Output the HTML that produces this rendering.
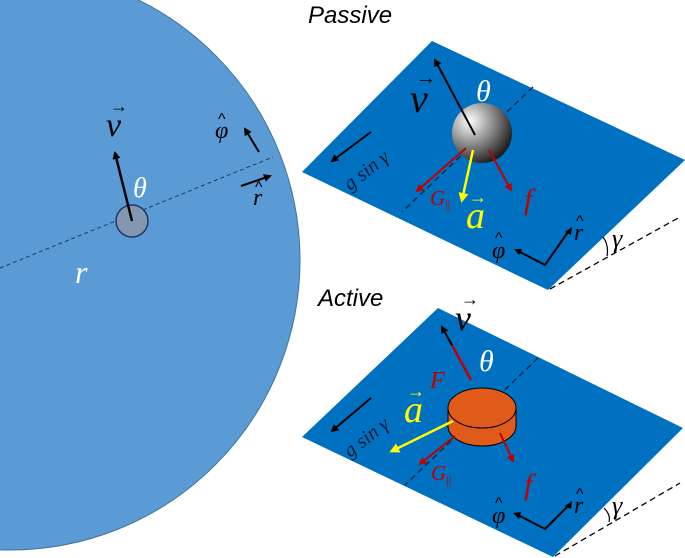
<!DOCTYPE html>
<html><head><meta charset="utf-8"><style>
body{margin:0;background:#fff;}
svg{display:block;}
text{font-family:"Liberation Serif",serif;font-style:italic;}
.s{font-family:"Liberation Sans",sans-serif;}
.h{font-family:"Liberation Sans",sans-serif;font-style:normal;}
</style></head><body>
<svg width="685" height="558" viewBox="0 0 685 558" xmlns="http://www.w3.org/2000/svg">
<defs>
<marker id="ak" markerWidth="8" markerHeight="8" refX="6" refY="4" orient="auto" markerUnits="userSpaceOnUse"><path d="M0,0 L8,4 L0,8 z" fill="#000"/></marker>
<marker id="ar" markerWidth="8" markerHeight="8" refX="6" refY="4" orient="auto" markerUnits="userSpaceOnUse"><path d="M0,0 L8,4 L0,8 z" fill="#c00000"/></marker>
<marker id="ay" markerWidth="10" markerHeight="10" refX="7" refY="5" orient="auto" markerUnits="userSpaceOnUse"><path d="M0,0 L10,5 L0,10 z" fill="#ffff00"/></marker>
<radialGradient id="sph" cx="0.3" cy="0.3" r="0.8"><stop offset="0" stop-color="#fff"/><stop offset="0.5" stop-color="#888"/><stop offset="1" stop-color="#111"/></radialGradient>
</defs>
<!-- big circle -->
<circle cx="10" cy="260" r="290" fill="#5b9bd5" stroke="#41719c" stroke-width="1"/>
<line x1="0" y1="268" x2="273" y2="157" stroke="#1f3864" stroke-width="1" stroke-dasharray="4,3"/>
<circle cx="132" cy="221" r="16" fill="#8497b0" stroke="#1f3864" stroke-width="1.5"/>
<line x1="132" y1="221" x2="115" y2="153" stroke="#000" stroke-width="2.5" marker-end="url(#ak)"/>
<text x="106" y="136" font-size="34">v</text><text x="110" y="112" font-size="18" class="h">→</text>
<text x="133" y="197" font-size="28" fill="#fff">θ</text>
<line x1="259" y1="152" x2="245" y2="129" stroke="#000" stroke-width="2" marker-end="url(#ak)"/>
<text x="215" y="138" font-size="24">φ</text><text x="218" y="124" font-size="16" class="h">^</text>
<line x1="241" y1="186" x2="270" y2="176" stroke="#000" stroke-width="2" marker-end="url(#ak)"/>
<text x="253" y="205" font-size="24">r</text><text x="255" y="192" font-size="16" class="h">^</text>
<text x="75" y="283" font-size="32" fill="#fff">r</text>

<!-- Passive -->
<text x="308" y="23" font-size="24" class="s" font-style="italic">Passive</text>
<polygon points="432,41 685,160 548,290 302,172" fill="#0070c0"/>
<line x1="533" y1="87" x2="402" y2="212" stroke="#0d2a50" stroke-width="1.5" stroke-dasharray="6,4"/>
<circle cx="482" cy="133" r="30" fill="url(#sph)"/>
<line x1="475" y1="135" x2="435" y2="60" stroke="#000" stroke-width="2" marker-end="url(#ak)"/>
<text x="410" y="112" font-size="40">v</text><text x="416" y="84" font-size="20" class="h">→</text>
<text x="476" y="101" font-size="30" fill="#fff">θ</text>
<line x1="371" y1="132" x2="332" y2="161" stroke="#000" stroke-width="2" marker-end="url(#ak)"/>
<text x="0" y="0" font-size="20" fill="#0d1a30" transform="translate(350,191) rotate(-38)">g sin γ</text>
<line x1="466" y1="148" x2="417" y2="191" stroke="#c00000" stroke-width="2" marker-end="url(#ar)"/>
<line x1="473" y1="150" x2="462" y2="200" stroke="#ffff00" stroke-width="2.5" marker-end="url(#ay)"/>
<line x1="489" y1="150" x2="511" y2="190" stroke="#c00000" stroke-width="2" marker-end="url(#ar)"/>
<text x="430" y="205" font-size="21" fill="#c00000">G<tspan font-size="13" dy="4" font-style="normal">||</tspan></text>
<text x="466" y="228" font-size="38" fill="#ffff00">a</text><text x="469" y="203" font-size="18" fill="#ffff00" class="h">→</text>
<text x="524" y="209" font-size="30" fill="#c00000">f</text>
<polyline points="518,251 545,265 568,232" fill="none" stroke="#000" stroke-width="2"/>
<path d="M514,249 l8,0 l-3,6 z" fill="#000"/>
<path d="M572,227 l-1,8 l-6,-3 z" fill="#000"/>
<text x="492" y="258" font-size="24">φ</text><text x="495" y="243" font-size="16" class="h">^</text>
<text x="574" y="240" font-size="24">r</text><text x="576" y="226" font-size="16" class="h">^</text>
<line x1="550" y1="289" x2="680" y2="217" stroke="#000" stroke-width="1.3" stroke-dasharray="6,4"/>
<path d="M603,237 Q609,245 607,256" fill="none" stroke="#000" stroke-width="1.2"/>
<text x="612" y="247" font-size="26">γ</text>

<!-- Active -->
<text x="318" y="306" font-size="24" class="s" font-style="italic">Active</text>
<polygon points="438,308 683,428 553,557 302,437" fill="#0070c0"/>
<line x1="538" y1="358" x2="405" y2="485" stroke="#0d2a50" stroke-width="1.5" stroke-dasharray="6,4"/>
<line x1="470" y1="378" x2="442" y2="327" stroke="#000" stroke-width="2" marker-end="url(#ak)"/>
<line x1="471" y1="380" x2="452" y2="345" stroke="#c00000" stroke-width="2.5"/>
<text x="455" y="330" font-size="36">v</text><text x="461" y="305" font-size="18" class="h">→</text>
<text x="479" y="371" font-size="30" fill="#fff">θ</text>
<text x="430" y="388" font-size="24" fill="#c00000">F</text>
<path d="M448,408 L448,426 A34,20 0 0 0 516,426 L516,408 z" fill="#e05a1a" stroke="#000" stroke-width="1"/>
<ellipse cx="482" cy="408" rx="34" ry="20" fill="#e05a1a" stroke="#000" stroke-width="1"/>
<line x1="371" y1="398" x2="332" y2="431" stroke="#000" stroke-width="2" marker-end="url(#ak)"/>
<text x="0" y="0" font-size="20" fill="#0d1a30" transform="translate(350,458) rotate(-38)">g sin γ</text>
<line x1="453" y1="421" x2="392" y2="451" stroke="#ffff00" stroke-width="2.5" marker-end="url(#ay)"/>
<text x="404" y="422" font-size="38" fill="#ffff00">a</text><text x="407" y="397" font-size="18" fill="#ffff00" class="h">→</text>
<line x1="455" y1="436" x2="420" y2="464" stroke="#c00000" stroke-width="2" marker-end="url(#ar)"/>
<text x="431" y="480" font-size="21" fill="#c00000">G<tspan font-size="13" dy="4" font-style="normal">||</tspan></text>
<line x1="500" y1="433" x2="513" y2="461" stroke="#c00000" stroke-width="2" marker-end="url(#ar)"/>
<text x="524" y="494" font-size="30" fill="#c00000">f</text>
<polyline points="518,515 545,529 568,506" fill="none" stroke="#000" stroke-width="2"/>
<path d="M513,513 l8,-1 l-2,7 z" fill="#000"/>
<path d="M572,501 l-1,8 l-6,-3 z" fill="#000"/>
<text x="492" y="523" font-size="24">φ</text><text x="495" y="508" font-size="16" class="h">^</text>
<text x="574" y="513" font-size="24">r</text><text x="576" y="499" font-size="16" class="h">^</text>
<line x1="555" y1="556" x2="680" y2="483" stroke="#000" stroke-width="1.3" stroke-dasharray="6,4"/>
<path d="M604,508 Q611,515 609,522" fill="none" stroke="#000" stroke-width="1.2"/>
<text x="612" y="514" font-size="26">γ</text>
</svg>
</body></html>
